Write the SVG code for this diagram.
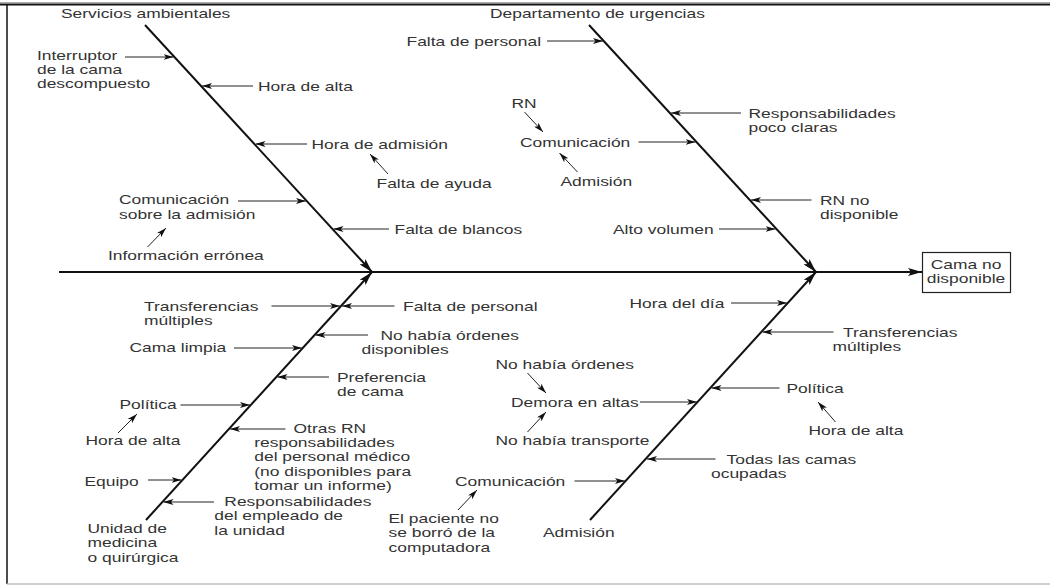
<svg xmlns="http://www.w3.org/2000/svg" width="1050" height="586" viewBox="0 0 1050 586">
<defs>
<style>
.t{font-family:"Liberation Sans",Arial,Helvetica,sans-serif;font-size:13px;fill:#333}
.m{text-anchor:middle}
.bone{stroke:#111;stroke-width:2;fill:none;marker-end:url(#big)}
.a{stroke:#222;stroke-width:1;fill:none;marker-end:url(#sm)}
.frame{stroke:#111;stroke-width:2;fill:none}
</style>
<marker id="sm" viewBox="0 0 10 6" refX="10" refY="3" markerWidth="10" markerHeight="6" markerUnits="userSpaceOnUse" orient="auto">
<path d="M0,0 L10,3 L0,6 L2.5,3 z" fill="#111"/>
</marker>
<marker id="big" viewBox="0 0 14 8" refX="14" refY="4" markerWidth="14" markerHeight="8" markerUnits="userSpaceOnUse" orient="auto">
<path d="M0,0 L14,4 L0,8 L3,4 z" fill="#111"/>
</marker>
</defs>
<rect width="1050" height="586" fill="#fff"/>
<g id="frame">
<line x1="0" y1="2.5" x2="1050" y2="2.5" stroke="#aaa" stroke-width="1"/>
<line x1="0" y1="4.5" x2="1050" y2="4.5" class="frame"/>
<line x1="7" y1="4" x2="7" y2="584" stroke="#111" stroke-width="1.5"/>
<line x1="7" y1="584" x2="1050" y2="584" stroke="#c0c0c0" stroke-width="1.5"/>
</g>
<g id="connectors">
<line class="bone" x1="59" y1="272" x2="922" y2="272"/>
<line class="bone" x1="145" y1="25" x2="372" y2="272"/>
<line class="bone" x1="589" y1="25" x2="816" y2="272"/>
<line class="bone" x1="146" y1="520" x2="372" y2="272"/>
<line class="bone" x1="590" y1="520" x2="816" y2="272"/>
<line class="a" x1="125" y1="57" x2="173.5" y2="57"/>
<line class="a" x1="253" y1="86" x2="202" y2="86"/>
<line class="a" x1="307" y1="144" x2="255.5" y2="144"/>
<line class="a" x1="238" y1="201" x2="306" y2="201"/>
<line class="a" x1="389" y1="229" x2="333.5" y2="229"/>
<line class="a" x1="388" y1="174" x2="370" y2="154"/>
<line class="a" x1="147.5" y1="247" x2="166" y2="228"/>
<line class="a" x1="547" y1="41" x2="603" y2="41"/>
<line class="a" x1="741" y1="113" x2="671" y2="113"/>
<line class="a" x1="638.5" y1="142" x2="695.5" y2="142"/>
<line class="a" x1="811.5" y1="200" x2="751" y2="200"/>
<line class="a" x1="719" y1="229" x2="775.5" y2="229"/>
<line class="a" x1="524.5" y1="112" x2="543" y2="132"/>
<line class="a" x1="577.5" y1="172" x2="559.5" y2="153"/>
<line class="a" x1="271.5" y1="306" x2="340" y2="306"/>
<line class="a" x1="394.5" y1="306" x2="342" y2="306"/>
<line class="a" x1="368" y1="335" x2="315.5" y2="335"/>
<line class="a" x1="234" y1="348" x2="302" y2="348"/>
<line class="a" x1="329" y1="377" x2="277.5" y2="377"/>
<line class="a" x1="180.5" y1="405" x2="250" y2="405"/>
<line class="a" x1="285.5" y1="429" x2="230" y2="429"/>
<line class="a" x1="148" y1="480" x2="181.5" y2="480"/>
<line class="a" x1="214" y1="502" x2="163.5" y2="502"/>
<line class="a" x1="118" y1="433" x2="137" y2="414"/>
<line class="a" x1="731" y1="303" x2="787" y2="303"/>
<line class="a" x1="833.5" y1="332" x2="762.5" y2="332"/>
<line class="a" x1="779.5" y1="388" x2="711.5" y2="388"/>
<line class="a" x1="640" y1="402" x2="697" y2="402"/>
<line class="a" x1="715.5" y1="459" x2="647" y2="459"/>
<line class="a" x1="574.5" y1="481" x2="625" y2="481"/>
<line class="a" x1="527.5" y1="373" x2="546" y2="393"/>
<line class="a" x1="527.5" y1="432" x2="546" y2="412"/>
<line class="a" x1="835.5" y1="422" x2="818" y2="402"/>
<line class="a" x1="458" y1="510" x2="477" y2="490"/>
</g>
<g id="effect">
<rect x="922.5" y="252.5" width="88" height="40" fill="#fff" stroke="#222" stroke-width="1.2"/>
<g transform="translate(966,268.5) scale(1.34,1)"><text class="t m"><tspan x="0" y="0">Cama no</tspan><tspan x="0" y="14.5">disponible</tspan></text></g>
</g>
<g id="cat-servicios" transform="translate(61,18) scale(1.34,1)"><text class="t">Servicios ambientales</text></g>
<g id="n-interruptor" transform="translate(37,59.5) scale(1.34,1)"><text class="t"><tspan x="0" y="0">Interruptor</tspan><tspan x="0" y="14.3">de la cama</tspan><tspan x="0" y="28.6">descompuesto</tspan></text></g>
<g id="n-hora-alta-1" transform="translate(258,91) scale(1.34,1)"><text class="t">Hora de alta</text></g>
<g id="n-hora-admision" transform="translate(311.5,149) scale(1.34,1)"><text class="t">Hora de admisión</text></g>
<g id="n-falta-ayuda" transform="translate(376.5,188) scale(1.34,1)"><text class="t">Falta de ayuda</text></g>
<g id="n-comunicacion-admision" transform="translate(119,204) scale(1.34,1)"><text class="t"><tspan x="0" y="0">Comunicación</tspan><tspan x="0" y="15">sobre la admisión</tspan></text></g>
<g id="n-info-erronea" transform="translate(108,260) scale(1.34,1)"><text class="t">Información errónea</text></g>
<g id="n-falta-blancos" transform="translate(394.5,234) scale(1.34,1)"><text class="t">Falta de blancos</text></g>
<g id="cat-urgencias" transform="translate(490,18) scale(1.34,1)"><text class="t">Departamento de urgencias</text></g>
<g id="n-falta-personal-1" transform="translate(406.5,46) scale(1.34,1)"><text class="t">Falta de personal</text></g>
<g id="n-rn" transform="translate(511.5,108) scale(1.34,1)"><text class="t">RN</text></g>
<g id="n-comunicacion-1" transform="translate(520,147) scale(1.34,1)"><text class="t">Comunicación</text></g>
<g id="n-admision-1" transform="translate(560.5,186) scale(1.34,1)"><text class="t">Admisión</text></g>
<g id="n-responsabilidades-1" transform="translate(748.5,118) scale(1.34,1)"><text class="t"><tspan x="0" y="0">Responsabilidades</tspan><tspan x="0" y="14.5">poco claras</tspan></text></g>
<g id="n-rn-no" transform="translate(820,204.5) scale(1.34,1)"><text class="t"><tspan x="0" y="0">RN no</tspan><tspan x="0" y="14.5">disponible</tspan></text></g>
<g id="n-alto-volumen" transform="translate(613,234) scale(1.34,1)"><text class="t">Alto volumen</text></g>
<g id="n-transferencias-1" transform="translate(144,310.5) scale(1.34,1)"><text class="t"><tspan x="0" y="0">Transferencias</tspan><tspan x="0" y="14.5">múltiples</tspan></text></g>
<g id="n-falta-personal-2" transform="translate(403,310.5) scale(1.34,1)"><text class="t">Falta de personal</text></g>
<g id="n-no-ordenes-1" transform="translate(361.5,339.5) scale(1.34,1)"><text class="t"><tspan x="14.2" y="0">No había órdenes</tspan><tspan x="0" y="14.5">disponibles</tspan></text></g>
<g id="n-cama-limpia" transform="translate(129.5,352) scale(1.34,1)"><text class="t">Cama limpia</text></g>
<g id="n-preferencia" transform="translate(337,381.5) scale(1.34,1)"><text class="t"><tspan x="0" y="0">Preferencia</tspan><tspan x="0" y="14.5">de cama</tspan></text></g>
<g id="n-politica-1" transform="translate(119.5,409) scale(1.34,1)"><text class="t">Política</text></g>
<g id="n-hora-alta-2" transform="translate(85.5,445) scale(1.34,1)"><text class="t">Hora de alta</text></g>
<g id="n-otras-rn" transform="translate(254.3,432.5) scale(1.34,1)"><text class="t"><tspan x="29.3" y="0">Otras RN</tspan><tspan x="0" y="14.5">responsabilidades</tspan><tspan x="0" y="29">del personal médico</tspan><tspan x="0" y="43.5">(no disponibles para</tspan><tspan x="0" y="58">tomar un informe)</tspan></text></g>
<g id="n-equipo" transform="translate(84.5,486) scale(1.34,1)"><text class="t">Equipo</text></g>
<g id="n-responsabilidades-2" transform="translate(214.3,506) scale(1.34,1)"><text class="t"><tspan x="7.5" y="0">Responsabilidades</tspan><tspan x="0" y="14.5">del empleado de</tspan><tspan x="0" y="29">la unidad</tspan></text></g>
<g id="cat-unidad" transform="translate(87.5,533) scale(1.34,1)"><text class="t"><tspan x="0" y="0">Unidad de</tspan><tspan x="0" y="14.5">medicina</tspan><tspan x="0" y="29">o quirúrgica</tspan></text></g>
<g id="n-paciente" transform="translate(388.5,523) scale(1.34,1)"><text class="t"><tspan x="0" y="0">El paciente no</tspan><tspan x="0" y="14.5">se borró de la</tspan><tspan x="0" y="29">computadora</tspan></text></g>
<g id="n-hora-dia" transform="translate(629.5,308) scale(1.34,1)"><text class="t">Hora del día</text></g>
<g id="n-transferencias-2" transform="translate(832.5,336.5) scale(1.34,1)"><text class="t"><tspan x="7.8" y="0">Transferencias</tspan><tspan x="0" y="15">múltiples</tspan></text></g>
<g id="n-no-ordenes-2" transform="translate(495.5,369) scale(1.34,1)"><text class="t">No había órdenes</text></g>
<g id="n-demora" transform="translate(511,407) scale(1.34,1)"><text class="t">Demora en altas</text></g>
<g id="n-no-transporte" transform="translate(495.5,445) scale(1.34,1)"><text class="t">No había transporte</text></g>
<g id="n-politica-2" transform="translate(786.5,393) scale(1.34,1)"><text class="t">Política</text></g>
<g id="n-hora-alta-3" transform="translate(808.5,435) scale(1.34,1)"><text class="t">Hora de alta</text></g>
<g id="n-todas-camas" transform="translate(711,463.5) scale(1.34,1)"><text class="t"><tspan x="11.6" y="0">Todas las camas</tspan><tspan x="0" y="15">ocupadas</tspan></text></g>
<g id="n-comunicacion-2" transform="translate(455,486) scale(1.34,1)"><text class="t">Comunicación</text></g>
<g id="cat-admision" transform="translate(543,537) scale(1.34,1)"><text class="t">Admisión</text></g>
</svg>
